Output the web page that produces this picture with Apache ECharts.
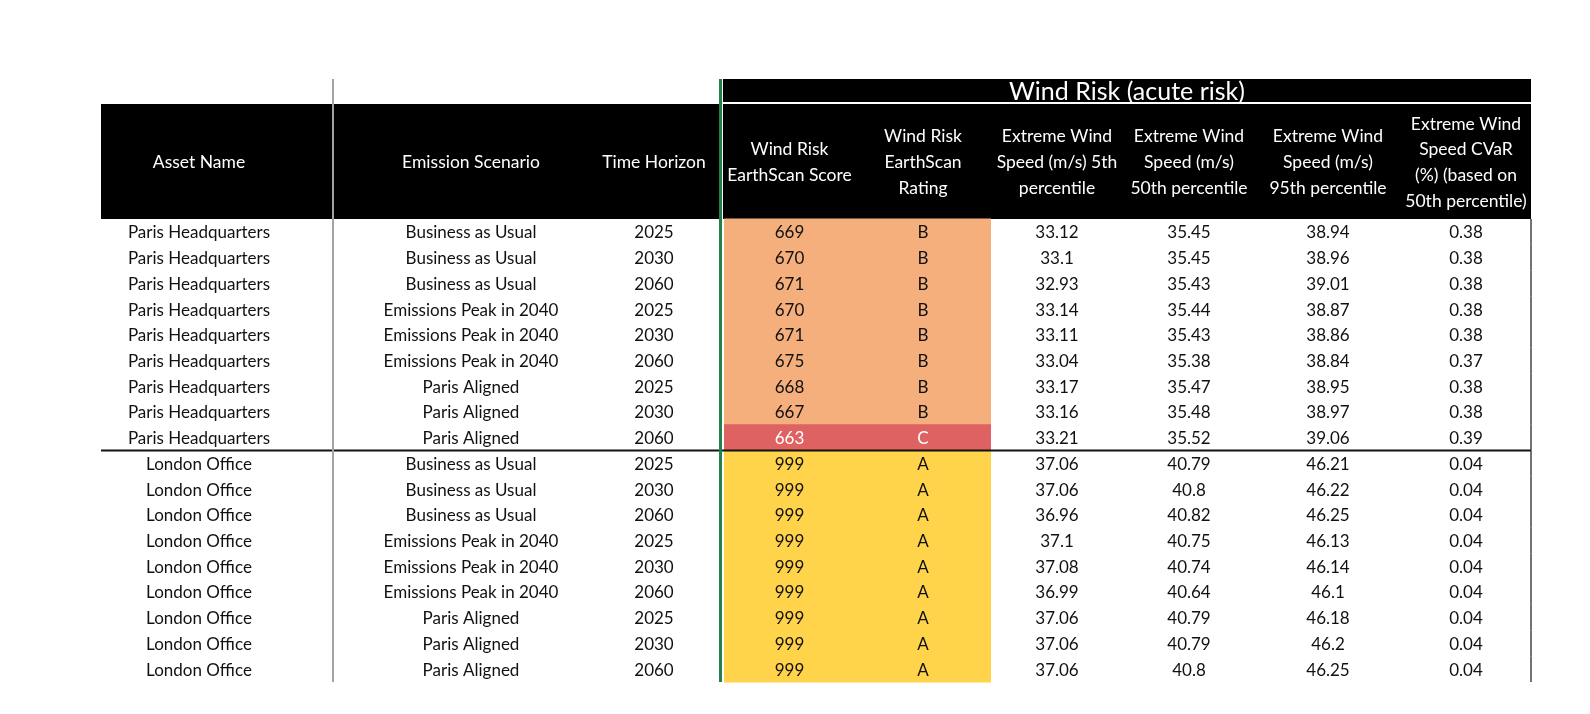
<!DOCTYPE html>
<html>
<head>
<meta charset="utf-8">
<title>Wind Risk (acute risk)</title>
<script src="https://cdn.jsdelivr.net/npm/echarts@6/dist/echarts.min.js"></script>
<style>
html, body { margin: 0; padding: 0; background: #fff; }
#main { width: 1590px; height: 714px; }
</style>
</head>
<body>
<div id="main"></div>
<script>
// table data, one entry per row
var assetNames = ["Paris Headquarters", "Paris Headquarters", "Paris Headquarters", "Paris Headquarters", "Paris Headquarters", "Paris Headquarters", "Paris Headquarters", "Paris Headquarters", "Paris Headquarters",
    "London Office", "London Office", "London Office", "London Office", "London Office", "London Office", "London Office", "London Office", "London Office"];
var scenarios = ["Business as Usual", "Business as Usual", "Business as Usual", "Emissions Peak in 2040", "Emissions Peak in 2040", "Emissions Peak in 2040", "Paris Aligned", "Paris Aligned", "Paris Aligned",
    "Business as Usual", "Business as Usual", "Business as Usual", "Emissions Peak in 2040", "Emissions Peak in 2040", "Emissions Peak in 2040", "Paris Aligned", "Paris Aligned", "Paris Aligned"];
var horizons = ["2025", "2030", "2060", "2025", "2030", "2060", "2025", "2030", "2060",
    "2025", "2030", "2060", "2025", "2030", "2060", "2025", "2030", "2060"];
var scores = [669, 670, 671, 670, 671, 675, 668, 667, 663, 999, 999, 999, 999, 999, 999, 999, 999, 999];
var ratings = ["B", "B", "B", "B", "B", "B", "B", "B", "C", "A", "A", "A", "A", "A", "A", "A", "A", "A"];
var speedP5 = [33.12, 33.1, 32.93, 33.14, 33.11, 33.04, 33.17, 33.16, 33.21, 37.06, 37.06, 36.96, 37.1, 37.08, 36.99, 37.06, 37.06, 37.06];
var speedP50 = [35.45, 35.45, 35.43, 35.44, 35.43, 35.38, 35.47, 35.48, 35.52, 40.79, 40.8, 40.82, 40.75, 40.74, 40.64, 40.79, 40.79, 40.8];
var speedP95 = [38.94, 38.96, 39.01, 38.87, 38.86, 38.84, 38.95, 38.97, 39.06, 46.21, 46.22, 46.25, 46.13, 46.14, 46.1, 46.18, 46.2, 46.25];
var cvar = [0.38, 0.38, 0.38, 0.38, 0.38, 0.37, 0.38, 0.38, 0.39, 0.04, 0.04, 0.04, 0.04, 0.04, 0.04, 0.04, 0.04, 0.04];

var groupTitle = "Wind Risk (acute risk)";
var headers = ["Asset Name", "Emission Scenario", "Time Horizon",
    "Wind Risk\nEarthScan Score", "Wind Risk\nEarthScan\nRating",
    "Extreme Wind\nSpeed (m/s) 5th\npercentile", "Extreme Wind\nSpeed (m/s)\n50th percentile",
    "Extreme Wind\nSpeed (m/s)\n95th percentile", "Extreme Wind\nSpeed CVaR\n(%) (based on\n50th percentile)"];

var columns = [assetNames, scenarios, horizons, scores, ratings, speedP5, speedP50, speedP95, cvar];

// layout of the columns on the x axis (units = px inside the grid)
var colFrom = [0, 222, 518, 623, 754, 890, 1022, 1154, 1300];
var colTo = [196, 518, 588, 754, 890, 1022, 1154, 1300, 1430];
var filledCols = [3, 4];
var ratingColor = { A: "#FFD44A", B: "#F4AF7C", C: "#DE6262" };
var ratingText = { A: "#111", B: "#111", C: "#ffffff" };

var gridLeft = 101, gridRight = 1531, gridTop = 219, gridBottom = 682;
var bandTop = 79, bandBottom = 102, headTop = 104;
var font = "Lato, 'Open Sans', sans-serif";

var cells = [];
for (var r = 0; r < assetNames.length; r++) {
    for (var c = 0; c < columns.length; c++) {
        cells.push([c, r]);
    }
}
var rowIdx = assetNames.map(function (d, i) { return String(i); });

function renderCell(params, api) {
    var c = api.value(0);
    var r = api.value(1);
    var left = api.coord([colFrom[c], r]);
    var right = api.coord([colTo[c], r]);
    var h = api.size([0, 1])[1];
    var top = left[1] - h / 2;
    var children = [];
    var txtColor = "#111";
    if (filledCols.indexOf(c) >= 0) {
        children.push({
            type: "rect",
            shape: { x: left[0], y: top - 0.5, width: right[0] - left[0], height: h + 1 },
            style: { fill: ratingColor[ratings[r]] }
        });
        txtColor = ratingText[ratings[r]];
    }
    children.push({
        type: "text",
        z2: 10,
        style: {
            x: (left[0] + right[0]) / 2, y: left[1] + 1,
            text: String(columns[c][r]),
            align: "center", verticalAlign: "middle",
            fill: txtColor, font: "17px " + font
        }
    });
    // separator between assets
    if (c === 0 && r > 0 && assetNames[r] !== assetNames[r - 1]) {
        var a = api.coord([0, r]);
        var b = api.coord([colTo[columns.length - 1], r]);
        children.push({
            type: "line", z2: 20,
            shape: { x1: a[0], y1: top, x2: b[0], y2: top },
            style: { stroke: "#111", lineWidth: 2 }
        });
    }
    // right border
    if (c === columns.length - 1) {
        children.push({
            type: "line", z2: 20,
            shape: { x1: right[0], y1: top, x2: right[0], y2: top + h },
            style: { stroke: "#444", lineWidth: 1.5 }
        });
    }
    return { type: "group", children: children };
}

// header built from the same column layout
var headerEls = [
    { type: "rect", z: 1, shape: { x: gridLeft, y: headTop, width: 618, height: gridTop - headTop }, style: { fill: "#000" } },
    { type: "rect", z: 1, shape: { x: gridLeft + 622, y: headTop, width: gridRight - gridLeft - 622, height: gridTop - headTop }, style: { fill: "#000" } },
    { type: "rect", z: 1, shape: { x: gridLeft + 622, y: bandTop, width: gridRight - gridLeft - 622, height: bandBottom - bandTop }, style: { fill: "#000" } },
    {
        type: "text", z: 2,
        style: {
            x: gridLeft + (622 + 1430) / 2, y: (bandTop + bandBottom) / 2 + 1,
            text: groupTitle, align: "center", verticalAlign: "middle",
            fill: "#fff", font: "25px " + font
        }
    }
];
headers.forEach(function (t, i) {
    headerEls.push({
        type: "text", z: 2,
        style: {
            x: gridLeft + (colFrom[i] + colTo[i]) / 2, y: (headTop + gridTop) / 2 + 1,
            text: t, align: "center", verticalAlign: "middle",
            lineHeight: 25.7, fill: "#fff", font: "17.5px " + font
        }
    });
});
// frozen-pane style dividers
headerEls.push({ type: "line", z: 5, shape: { x1: 333, y1: bandTop, x2: 333, y2: gridBottom }, style: { stroke: "#a3a3a3", lineWidth: 2 } });
headerEls.push({ type: "line", z: 5, shape: { x1: gridLeft + 619.5, y1: bandTop, x2: gridLeft + 619.5, y2: gridBottom }, style: { stroke: "#23804a", lineWidth: 3 } });

var chart = echarts.init(document.getElementById("main"));
chart.setOption({
    animation: false,
    backgroundColor: "#fff",
    grid: { left: gridLeft, right: 1590 - gridRight, top: gridTop, bottom: 714 - gridBottom },
    xAxis: { type: "value", min: 0, max: 1430, show: false },
    yAxis: { type: "category", data: rowIdx, inverse: true, show: false },
    graphic: headerEls,
    series: [{
        type: "custom",
        renderItem: renderCell,
        data: cells,
        clip: false
    }]
});
</script>
</body>
</html>
